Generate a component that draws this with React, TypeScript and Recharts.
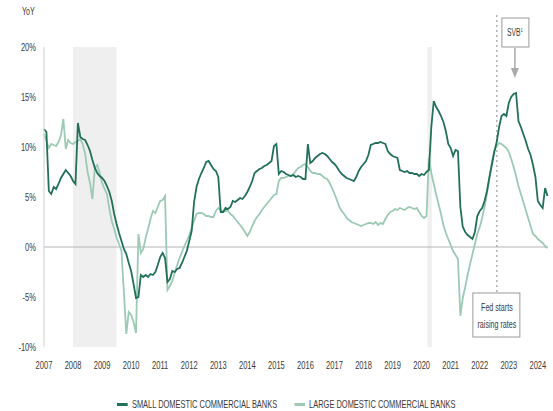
import React from 'react';
import { LineChart, Line, XAxis, YAxis, ReferenceArea, ReferenceLine, ReferenceDot } from 'recharts';

const START_YEAR = 2007;

// Deposit growth, % year on year, monthly from Jan 2007 to May 2024
const smallBanks = [
    11.8, 11.5, 5.6, 5.3, 6.0, 5.8, 6.3, 6.9, 7.3, 7.7, 7.4, 7.1, // 2007
    6.6, 6.3, 12.4, 11.0, 10.8, 10.7, 10.2, 9.6, 8.7, 7.9, 7.4, 7.1, // 2008
    6.9, 6.6, 6.1, 5.5, 4.6, 3.3, 2.3, 1.4, 0.6, -0.2, -0.7, -1.6, // 2009
    -2.4, -3.7, -5.1, -5.0, -2.8, -3.0, -2.8, -3.0, -2.7, -2.8, -2.5, -1.8, // 2010
    -1.0, -0.6, -1.1, -3.5, -3.2, -2.4, -2.5, -2.2, -2.1, -1.6, -1.0, -0.4, // 2011
    0.6, 1.6, 4.5, 6.0, 6.8, 7.4, 7.9, 8.5, 8.6, 8.2, 7.8, 7.6, // 2012
    7.0, 3.5, 3.5, 3.9, 3.8, 4.0, 4.6, 4.5, 4.7, 4.9, 4.8, 5.1, // 2013
    5.5, 6.0, 6.6, 7.4, 7.6, 7.8, 7.9, 8.1, 8.2, 8.4, 8.6, 10.1, // 2014
    10.3, 7.3, 7.6, 7.5, 7.3, 7.2, 7.1, 7.2, 7.0, 7.1, 7.0, 6.8, // 2015
    6.8, 10.3, 8.4, 8.6, 8.9, 9.1, 9.3, 9.4, 9.3, 9.1, 8.8, 8.5, // 2016
    8.3, 8.0, 7.6, 7.3, 7.1, 6.9, 6.8, 6.7, 6.6, 7.0, 7.6, 8.0, // 2017
    8.3, 8.6, 9.2, 10.2, 10.3, 10.4, 10.4, 10.5, 10.4, 10.3, 9.6, 9.3, // 2018
    9.1, 9.0, 8.9, 7.7, 7.6, 7.5, 7.6, 7.4, 7.4, 7.3, 7.3, 7.1, // 2019
    7.3, 7.2, 7.5, 7.7, 12.0, 14.6, 14.0, 13.6, 13.1, 12.5, 11.6, 10.3, // 2020
    9.9, 9.1, 9.7, 9.6, 4.0, 2.0, 1.5, 1.2, 1.0, 0.8, 1.5, 3.1, // 2021
    3.6, 3.9, 4.6, 5.6, 7.0, 8.2, 9.5, 10.5, 12.0, 13.1, 13.3, 13.1, // 2022
    14.4, 15.0, 15.3, 15.4, 12.6, 12.0, 11.3, 10.6, 9.8, 9.2, 8.2, 7.0, // 2023
    4.6, 4.2, 3.9, 5.9, 5.1 // 2024
];

const largeBanks = [
    11.3, 10.6, 9.9, 10.3, 10.2, 10.1, 10.5, 11.2, 12.8, 9.8, 10.7, 10.4, // 2007
    10.3, 10.5, 10.6, 10.8, 10.3, 9.3, 7.5, 6.4, 4.8, 7.9, 8.2, 7.4, // 2008
    6.4, 5.8, 5.3, 3.8, 2.6, 1.8, 0.9, 0.3, -0.4, -4.5, -8.7, -6.5, // 2009
    -6.8, -7.5, -8.6, 1.3, -0.6, -0.2, 0.9, 1.8, 2.8, 3.6, 3.4, 4.0, // 2010
    4.6, 4.7, 5.1, -4.3, -3.9, -3.4, -2.6, -1.8, -1.1, -0.5, 0.1, 0.6, // 2011
    1.2, 1.9, 2.6, 3.3, 3.4, 3.4, 3.3, 3.1, 3.1, 3.0, 3.0, 3.6, // 2012
    3.9, 3.7, 3.5, 3.6, 3.6, 3.3, 3.1, 2.8, 2.5, 2.2, 1.9, 1.5, // 2013
    1.1, 1.5, 2.1, 2.6, 3.0, 3.3, 3.7, 4.0, 4.3, 4.6, 4.9, 5.2, // 2014
    5.3, 6.6, 6.9, 6.9, 7.0, 7.1, 7.1, 7.3, 7.6, 7.9, 8.0, 8.2, // 2015
    8.3, 8.0, 7.6, 7.4, 7.4, 7.3, 7.3, 7.1, 6.9, 6.8, 6.4, 5.9, // 2016
    5.3, 4.7, 4.0, 3.6, 3.3, 2.9, 2.7, 2.5, 2.4, 2.3, 2.2, 2.1, // 2017
    2.2, 2.3, 2.4, 2.4, 2.3, 2.5, 2.2, 2.4, 2.3, 2.8, 3.2, 3.5, // 2018
    3.6, 3.8, 3.7, 3.9, 3.8, 3.7, 3.9, 4.0, 3.9, 3.8, 3.9, 3.5, // 2019
    3.1, 2.9, 3.1, 8.9, 7.4, 6.3, 5.2, 4.3, 3.3, 2.2, 1.4, 0.8, // 2020
    0.2, -0.4, -0.8, -1.2, -6.9, -5.1, -4.0, -2.8, -1.7, -0.7, 0.3, 1.3, // 2021
    2.0, 2.9, 4.0, 5.4, 6.8, 8.5, 9.6, 10.1, 10.4, 10.3, 10.1, 9.9, // 2022
    9.5, 8.8, 8.0, 7.1, 6.1, 5.3, 4.5, 3.7, 2.9, 2.1, 1.3, 1.1, // 2023
    0.8, 0.6, 0.4, 0.1, -0.1 // 2024
];

const yearTicks = [2007, 2008, 2009, 2010, 2011, 2012, 2013, 2014, 2015, 2016, 2017, 2018, 2019, 2020, 2021, 2022, 2023, 2024];
const pctTicks = [-10, -5, 0, 5, 10, 15, 20];

// recession shading and event markers (fractional years)
const recessions = [
    { from: 2008.0, to: 2009.5 },
    { from: 2020.2, to: 2020.35 }
];
const fedHikeDate = 2022.59;
const svbDate = 2023.21;

const SMALL_COLOR = '#22705a';
const LARGE_COLOR = '#9ccab4';
const FONT = '"Liberation Sans", Arial, sans-serif';
const TEXT_COLOR = '#3a3a3a';

// condensed-looking text: the narrow face isn't available, so squeeze horizontally
function NarrowText({ x, y, squeeze = 0.72, size = 10.5, anchor = 'middle', dy, children }: any) {
    return (
        <text
            transform={`translate(${x},${y}) scale(${squeeze},1)`}
            textAnchor={anchor}
            dy={dy}
            fontSize={size}
            fill={TEXT_COLOR}
            fontFamily={FONT}
        >
            {children}
        </text>
    );
}

function YearTick({ x, y, payload }: any) {
    return <NarrowText x={x} y={y} dy="0.71em">{payload.value}</NarrowText>;
}

function PctTick({ x, y, payload }: any) {
    return (
        <NarrowText x={x} y={y} anchor="end" dy="0.355em">
            {`${payload.value}%`}
        </NarrowText>
    );
}

function FedBox({ cx, cy }: any) {
    return (
        <g>
            <rect x={cx - 24} y={cy} width={47} height={44} fill="#fff" stroke="#9a9a9a" />
            <NarrowText x={cx} y={cy + 18} size={10.5} squeeze={0.68}>Fed starts</NarrowText>
            <NarrowText x={cx} y={cy + 35} size={10.5} squeeze={0.68}>raising rates</NarrowText>
        </g>
    );
}

function SvbCallout({ cx, cy }: any) {
    return (
        <g>
            <rect x={cx - 13} y={cy - 60} width={27} height={29} fill="#fff" stroke="#9a9a9a" />
            <NarrowText x={cx} y={cy - 42} size={10} squeeze={0.68}>
                SVB
                <tspan fontSize={6} dy={-4}>1</tspan>
            </NarrowText>
            <line x1={cx} x2={cx} y1={cy - 30} y2={cy - 9} stroke="#aaa" strokeWidth={1.5} />
            <path d={`M${cx - 4},${cy - 10} L${cx + 4},${cy - 10} L${cx},${cy} Z`} fill="#aaa" />
        </g>
    );
}

function LegendItem({ color, label }: { color: string; label: string }) {
    return (
        <span style={{ display: 'inline-flex', alignItems: 'center', gap: 6 }}>
            <span style={{ display: 'inline-block', width: 15, height: 3, background: color }} />
            <span>{label}</span>
        </span>
    );
}

const data = smallBanks.map((v, i) => ({
    t: START_YEAR + i / 12,
    small: v,
    large: largeBanks[i]
}));

export default function App() {
    return (
        <div
            style={{
                position: 'absolute',
                left: 0,
                top: 0,
                width: 553,
                height: 411,
                background: '#fff',
                fontFamily: FONT
            }}
        >
            <div
                style={{
                    position: 'absolute',
                    left: 22,
                    top: 5,
                    fontSize: 10.5,
                    color: TEXT_COLOR,
                    transform: 'scaleX(0.68)',
                    transformOrigin: 'left top'
                }}
            >
                YoY
            </div>
            <LineChart
                width={553}
                height={411}
                data={data}
                margin={{ top: 47, right: 5, bottom: 0, left: 0 }}
            >
                {recessions.map((r) => (
                    <ReferenceArea
                        key={r.from}
                        x1={r.from}
                        x2={r.to}
                        y1={-10}
                        y2={20}
                        fill="#efefef"
                        fillOpacity={1}
                        stroke="none"
                    />
                ))}
                <XAxis
                    type="number"
                    dataKey="t"
                    domain={[2007, 2024.35]}
                    ticks={yearTicks}
                    axisLine={false}
                    tickLine={false}
                    tickSize={0}
                    tickMargin={15}
                    height={64}
                    tick={<YearTick />}
                    interval={0}
                />
                <YAxis
                    domain={[-10, 20]}
                    ticks={pctTicks}
                    axisLine={{ stroke: '#cfcfcf' }}
                    tickLine={false}
                    tickSize={0}
                    tickMargin={8}
                    width={44}
                    tick={<PctTick />}
                    interval={0}
                />
                <ReferenceLine y={0} stroke="#b5b5b5" strokeWidth={1} />
                <ReferenceLine
                    segment={[
                        { x: fedHikeDate, y: 23.2 },
                        { x: fedHikeDate, y: -4.6 }
                    ]}
                    stroke="#8a8a8a"
                    strokeDasharray="2 3"
                    ifOverflow="visible"
                />
                <Line
                    type="linear"
                    dataKey="large"
                    stroke={LARGE_COLOR}
                    strokeWidth={1.8}
                    dot={false}
                    isAnimationActive={false}
                />
                <Line
                    type="linear"
                    dataKey="small"
                    stroke={SMALL_COLOR}
                    strokeWidth={1.8}
                    dot={false}
                    isAnimationActive={false}
                />
                <ReferenceDot x={fedHikeDate} y={-4.6} ifOverflow="visible" shape={FedBox} />
                <ReferenceDot x={svbDate} y={16.9} ifOverflow="visible" shape={SvbCallout} />
            </LineChart>
            <div
                style={{
                    position: 'absolute',
                    left: 117,
                    top: 398,
                    display: 'flex',
                    gap: 24,
                    fontSize: 10.5,
                    color: TEXT_COLOR,
                    whiteSpace: 'nowrap',
                    transform: 'scaleX(0.71)',
                    transformOrigin: 'left top'
                }}
            >
                <LegendItem color={SMALL_COLOR} label="SMALL DOMESTIC COMMERCIAL BANKS" />
                <LegendItem color={LARGE_COLOR} label="LARGE DOMESTIC COMMERCIAL BANKS" />
            </div>
        </div>
    );
}
